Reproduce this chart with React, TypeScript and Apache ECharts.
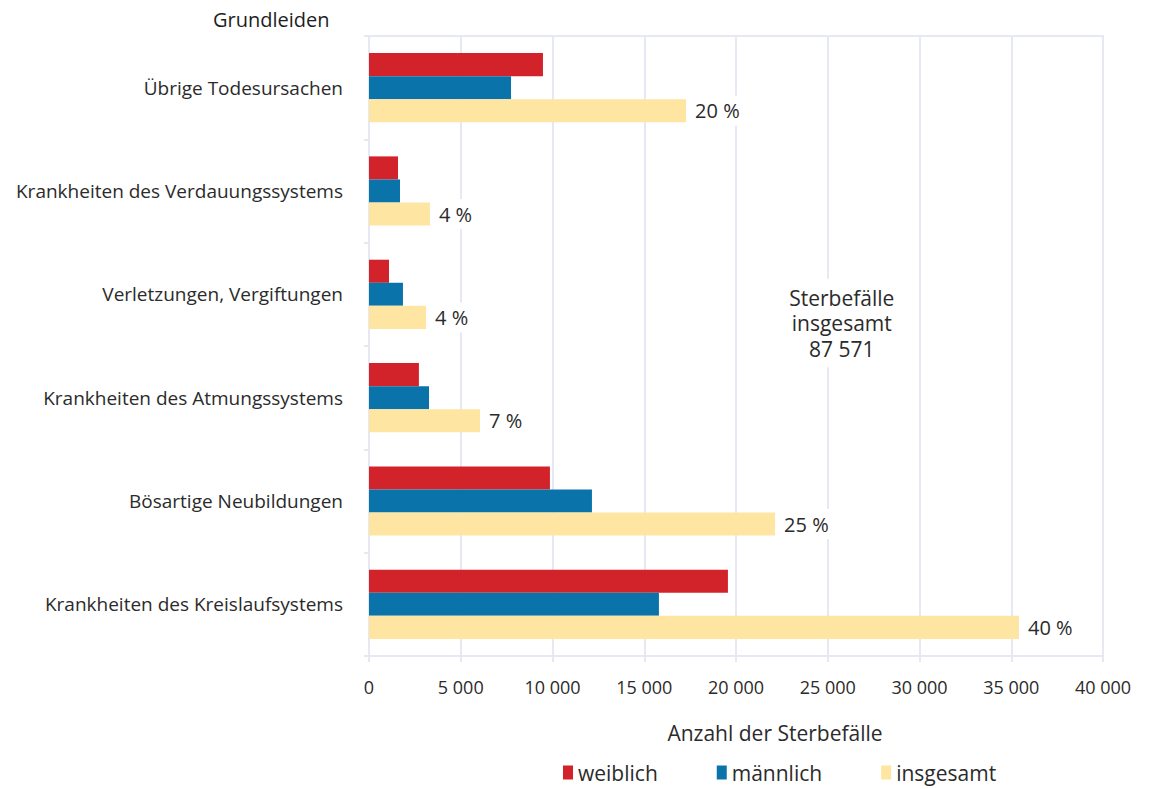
import React, { useEffect, useRef } from "react";
import * as echarts from "echarts";

const categories = [
  "Übrige Todesursachen",
  "Krankheiten des Verdauungssystems",
  "Verletzungen, Vergiftungen",
  "Krankheiten des Atmungssystems",
  "Bösartige Neubildungen",
  "Krankheiten des Kreislaufsystems",
];
const weiblich = [9480, 1580, 1090, 2720, 9860, 19560];
const maennlich = [7740, 1690, 1850, 3270, 12150, 15800];
const insgesamt = [17280, 3320, 3110, 6050, 22130, 35420];
const percentLabels = ["20 %", "4 %", "4 %", "7 %", "25 %", "40 %"];
const totalLabel = "Sterbefälle\ninsgesamt\n87 571";
const xTicks = [0, 5000, 10000, 15000, 20000, 25000, 30000, 35000, 40000];

const FONT = "Open Sans";
const GRID = "#e6e8f3";
const TXT = "#2b2b2b";

export default function App() {
  const ref = useRef<HTMLDivElement>(null);
  useEffect(() => {
    document.body.style.margin = "0";
    const chart = echarts.init(ref.current!, null, { renderer: "svg" });
    const fmt = (v: number) => String(v).replace(/\B(?=(\d{3})+(?!\d))/g, " ");
    chart.setOption({
      animation: false,
      textStyle: { fontFamily: FONT },
      grid: {
        left: 369,
        right: 47,
        top: 36,
        bottom: 133,
        show: true,
        borderColor: GRID,
        borderWidth: 2,
      },
      title: {
        text: "Grundleiden",
        left: 208,
        top: 4,
        textStyle: { fontFamily: FONT, fontSize: 20, fontWeight: 500, color: "#1e1e1e" },
      },
      legend: {
        data: ["weiblich", "männlich", "insgesamt"],
        left: 563,
        top: 762,
        padding: 0,
        icon: "rect",
        itemWidth: 10,
        itemHeight: 14,
        itemGap: 59,
        textStyle: { fontFamily: FONT, fontSize: 21, color: TXT },
      },
      xAxis: {
        type: "value",
        min: xTicks[0],
        max: xTicks[xTicks.length - 1],
        interval: 5000,
        name: "Anzahl der Sterbefälle",
        nameLocation: "middle",
        nameGap: 66,
        nameTextStyle: { fontFamily: FONT, fontSize: 21, color: TXT, padding: [0, 0, 0, 78] },
        axisLine: { show: true, lineStyle: { color: GRID, width: 2 } },
        axisTick: { show: true, length: 6, lineStyle: { color: GRID, width: 2 } },
        axisLabel: { fontFamily: FONT, fontSize: 18, color: TXT, margin: 22, formatter: (v: number) => fmt(v) },
        splitLine: { show: true, lineStyle: { color: GRID, width: 2 } },
      },
      yAxis: {
        type: "category",
        inverse: true,
        data: categories,
        axisLine: { show: true, lineStyle: { color: GRID, width: 2 } },
        axisTick: { show: true, length: 5, lineStyle: { color: GRID, width: 2 } },
        axisLabel: { fontFamily: FONT, fontSize: 19, color: TXT, margin: 26 },
        splitLine: { show: false },
      },
      series: [
        {
          name: "weiblich",
          type: "bar",
          data: weiblich,
          barGap: "0%",
          barCategoryGap: "33%",
          itemStyle: { color: "#d2232a" },
        },
        {
          name: "männlich",
          type: "bar",
          data: maennlich,
          itemStyle: { color: "#0a73aa" },
        },
        {
          name: "insgesamt",
          type: "bar",
          data: insgesamt,
          itemStyle: { color: "#fee5a1" },
          label: {
            show: true,
            position: "right",
            distance: 3,
            formatter: (p: any) => percentLabels[p.dataIndex],
            fontFamily: FONT,
            fontSize: 20,
            fontWeight: 500,
            color: TXT,
            backgroundColor: "#ffffff",
            padding: [5, 20, 5, 6],
          },
        },
      ],
    });
    const px = chart.convertToPixel({ xAxisIndex: 0 }, 25000) as number;
    chart.setOption({
      graphic: [
        {
          type: "text",
          x: px + 14,
          y: 323,
          z: 10,
          style: {
            text: totalLabel,
            fontFamily: FONT,
            fontSize: 21,
            lineHeight: 25.5,
            fill: TXT,
            align: "center",
            verticalAlign: "middle",
            backgroundColor: "#ffffff",
            padding: [6, 8],
          },
        },
      ],
    });
    return () => chart.dispose();
  }, []);
  return <div ref={ref} style={{ width: 1150, height: 789 }} />;
}
